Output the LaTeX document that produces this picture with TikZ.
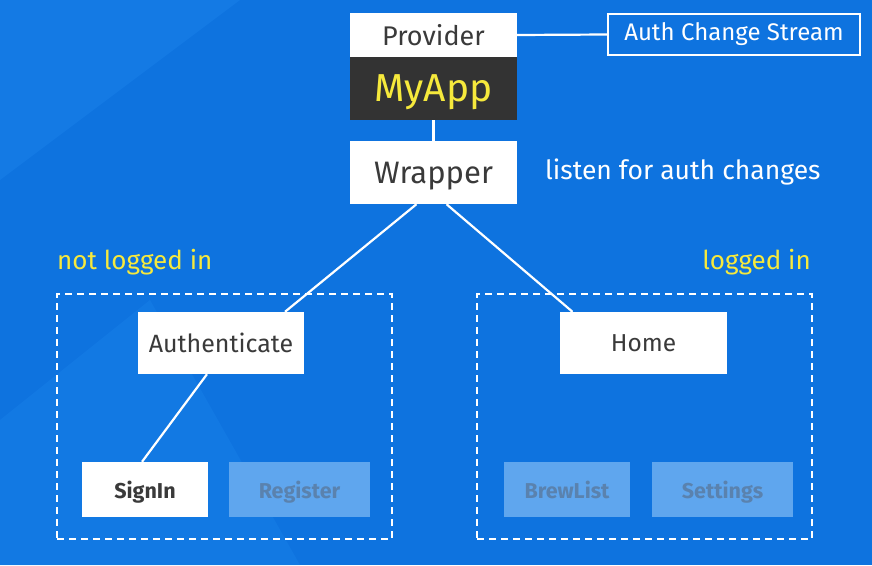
\documentclass[tikz,border=0pt]{standalone}
\usepackage{fontspec}
\setmainfont{Fira Sans}
\usetikzlibrary{positioning}
\definecolor{bg}{HTML}{0E73DF}
\definecolor{bglight}{HTML}{1A82EA}
\definecolor{txt}{HTML}{3A3A3A}
\definecolor{dark}{HTML}{333333}
\definecolor{yel}{HTML}{F6E93C}
\definecolor{faded}{HTML}{5FA6EE}
\definecolor{fadedtxt}{HTML}{5A82AE}
\tikzset{
  x=1pt, y=-1pt,
  wbox/.style={fill=white, inner sep=0pt, text=txt, text depth=0pt},
  fbox/.style={fill=faded, inner sep=0pt, text=fadedtxt, text depth=0pt, font=\bfseries\fontsize{21.5}{24}\selectfont},
  conn/.style={draw=white, line width=2.2pt},
  grp/.style={draw=white, line width=2pt, dash pattern=on 7pt off 5pt},
  lbl/.style={text=white, inner sep=0pt},
  ylbl/.style={text=yel, inner sep=0pt, font=\fontsize{26}{30}\selectfont}
}
\begin{document}
\begin{tikzpicture}
\fill[bg] (0,0) rectangle (872,565);
\fill[bglight, opacity=0.5] (0,0) -- (240,0) -- (0,180) -- cycle;
\fill[bglight, opacity=0.4] (0,565) -- (0,420) -- (150,300) -- (300,565) -- cycle;
\useasboundingbox (0,0) rectangle (872,565);
% top
\node[wbox, minimum width=167pt, minimum height=44pt, font=\fontsize{27}{30}\selectfont] (prov) at (433.5,35) {Provider};
\node[fill=dark, inner sep=0pt, text depth=0pt, minimum width=167pt, minimum height=63pt, text=yel, font=\fontsize{39}{44}\selectfont] (app) at (433.5,88.5) {MyApp};
\node[draw=white, line width=2pt, lbl, minimum width=252pt, minimum height=41pt, font=\fontsize{24}{28}\selectfont] (acs) at (734,34.5) {Auth Change Stream};
\node[wbox, minimum width=167pt, minimum height=63pt, font=\fontsize{31}{36}\selectfont] (wrap) at (433.5,172.5) {Wrapper};
\node[lbl, anchor=west, font=\fontsize{26.5}{30}\selectfont] (listen) at (545,172) {listen for auth changes};
% groups
\node[grp, minimum width=335pt, minimum height=245pt, inner sep=0pt] (gl) at (224.5,416.5) {};
\node[grp, minimum width=335pt, minimum height=245pt, inner sep=0pt] (gr) at (644.5,416.5) {};
\node[ylbl, anchor=west] (nli) at (57,262) {not logged in};
\node[ylbl, anchor=east] (li) at (811,262) {logged in};
% mid
\node[wbox, minimum width=166pt, minimum height=62pt, font=\fontsize{25}{29}\selectfont] (auth) at (221,343) {Authenticate};
\node[wbox, minimum width=167pt, minimum height=62pt, font=\fontsize{24.5}{29}\selectfont] (home) at (643.5,343) {Home};
% bottom
\node[wbox, minimum width=126pt, minimum height=55pt, font=\bfseries\fontsize{21.5}{24}\selectfont] (signin) at (145,489.5) {SignIn};
\node[fbox, minimum width=141pt, minimum height=55pt] (reg) at (299.5,489.5) {Register};
\node[fbox, minimum width=126pt, minimum height=55pt] (brew) at (567,489.5) {BrewList};
\node[fbox, minimum width=141pt, minimum height=55pt] (set) at (722.5,489.5) {Settings};
% connectors
\draw[conn] (prov.east) -- (acs.west);
\draw[conn] (app.south) -- (wrap.north);
\draw[conn] ([xshift=-17pt]wrap.south) -- ([xshift=64pt]auth.north);
\draw[conn] ([xshift=13pt]wrap.south) -- ([xshift=-71pt]home.north);
\draw[conn] ([xshift=-14pt]auth.south) -- ([xshift=-3pt]signin.north);
\end{tikzpicture}
\end{document}
